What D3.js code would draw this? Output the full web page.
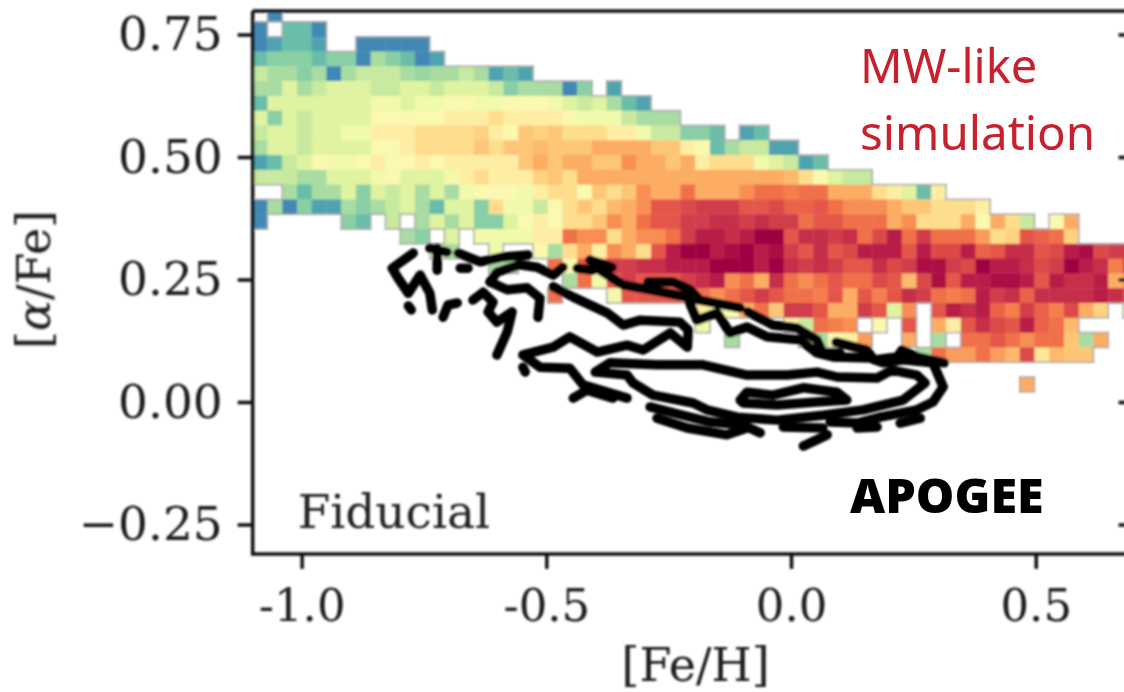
<!DOCTYPE html>
<html>
<head>
<meta charset="utf-8">
<script src="https://cdn.jsdelivr.net/npm/d3@7"></script>
<style>
  html, body { margin: 0; padding: 0; background: #fff; overflow: hidden; }
  text { font-family: "DejaVu Serif", serif; }
</style>
</head>
<body>
<div id="chart"></div>
<script>
const _ = null;

// colour level of each bin, top row first, left column first (0 = blue ... 18 = dark red)
const row00 = [_,0];
const row01 = [0,_,2,2,0];
const row02 = [0,1,2,2,1,_,_,0,0,0,0,0];
const row03 = [2,3,3,3,2,3,3,0,4,3,2,0,1];
const row04 = [5,4,4,3,4,0,4,5,5,5,4,3.5,4,4,5,4,1,2,1];
const row05 = [4,4,6,4,5,6,6,6,5,5,6,6,5,6,6,6,5,3,4,4,4,0,3,_,1];
const row06 = [2,6,6,6,6,6,6,6,7,7,6,7,7,8,8,7,7,8,8,8,7,6,5,6,4,2,1];
const row07 = [6,3,6,5,6,6,6,6,8,8,8,8,8,9,9,9,10,9,9,9,9,8,7,7,7,5,4,4,4];
const row08 = [5,6,6,5,6,6,7,7,9,9,9,10,10,10,10,10.5,9,8,11,10.5,11,10,10,10,9,9,7,5,5,3,3,2,_,1,2];
const row09 = [4,6,6,5,6,6,6,6,8,8,9,10,10,10,10,11,10,11,11,11.5,11,11,11,12,12,12,12,11,11,9,8,2,4,5,5,1,1];
const row10 = [1,2,5,6,8,7,7,8,9,8,8,9,8,9,9,9,9,9,11,12,11,12,12,11,11,13,12,12,11,12,9,10,10,10,7,6,5,1,2];
const row11 = [5,5,5,4,4,6,6,6,7,8,6,6,6,7,9,10,9,9,9,10.5,11,10,12,12,12,12,12,12,12,12,12,12,12,12,12,12,11.5,10,8,6,5,5];
const row12 = [_,_,4,2,4,4,6,3,6,5,6,4,6,4,7,8,8,8,7,9,10,10,8,11,10,11,13,12,12,14,12,12,12,13,14,14,13.5,14,14,12,12,12,10,9,6,2,9];
const row13 = [0,4,0,3,1,1,4,3,4,5,6,4,2,6,6,3,10,7,7,5,8,10,11,10,11.5,12,13,15,15,15.5,16,16,16,15,15,15.5,14.5,14.5,15,14,13,13,13,12,11,11,10,10,10,9];
const row14 = [0,_,_,_,_,_,3,2,_,5,_,4,6,4,6,3,3,6,8,9,8,10,10,11,13,12,14,15,15,16,16,16.5,16.5,16,16.5,16,16,14,15,15,14,14,14,12,13,10,10,10,12,8,12,10,5,_,8,12];
const row15 = [_,_,_,_,_,_,_,_,_,_,4,3,_,6,_,7,7,7,7,9,9,14,13,13,10,12,13,13,14,16,17,17,16.5,17,18,18,15,16.5,16.5,16,16.5,14,15.5,17,14,16,14,14,14,12.5,10,10.5,15,14.5,14,10.5];
const row16 = [_,_,_,_,_,_,_,_,_,_,_,_,6,4,_,_,7,_,_,8,4,10,12,9,13,12,10,15,17,18,18,17,17.5,18,17,17.5,16,15,16.5,15,15.5,17,17,17,15,17,15.5,15.5,17,14.5,15,16.5,16.5,15,15.5,17,17.5,15.5,16,16];
const row17 = [_,_,_,_,_,_,_,_,_,_,_,_,_,_,_,_,4,4,_,_,14,8,15,14,16,16,16.5,16.5,17,17,17,18,18,18,17,18,16.5,16,16.5,16,15,15,16.5,15.5,16,17.5,17.5,16,15.5,18,17,17,16.5,15.5,16,18,17,16.5,13.5,16];
const row18 = [_,_,_,_,_,_,_,_,_,_,_,_,_,_,_,_,_,_,_,_,_,4,14,7,15,16,15,15,15,16,16.5,17,13,14,12,16.5,14,13,14,15,14,14,15.5,15,11.5,15.5,17.5,15,17,17,17.5,17.5,17,15,17,16.5,16.5,17,12,13];
const row19 = [_,_,_,_,_,_,_,_,_,_,_,_,_,_,_,_,_,_,_,_,14,_,_,_,7,15,15,15,15,14,14,13,14,15,16,15,14,14,13.5,15,12,15,13.5,15,16.5,16,14,13.5,14,17,16,16.5,14.5,16.5,16.5,16.5,16.5,17,16.5,15];
const row20 = [_,_,_,_,_,_,_,_,_,_,_,_,_,_,_,_,_,_,_,_,_,_,_,_,_,_,_,_,_,_,9,7,8,12,14,11,16,16,15,12,12,16,15,6,13,_,15,17,16.5,17,14.5,13.5,16,14.5,13.5,15.5,12,10.5,_,6];
const row21 = [_,_,_,_,_,_,_,_,_,_,_,_,_,_,_,_,_,_,_,_,_,_,_,_,_,_,_,_,_,_,7,_,_,_,_,_,9,5,14,13.5,13,_,8,_,15,_,12,9,15,16.5,15.5,15,17,14.5,14,11.5];
const row22 = [_,_,_,_,_,_,_,_,_,_,_,_,_,_,_,_,_,_,_,_,_,_,_,_,_,_,_,_,_,_,_,_,4,_,_,_,_,6,4,8,9,12.5,_,_,12,_,4,_,14,14,15,14,13,14,14,11,4,12];
const row23 = [_,_,_,_,_,_,_,_,_,_,_,_,_,_,_,_,_,_,_,_,_,_,_,_,_,_,_,_,_,_,_,_,_,_,_,_,_,_,_,_,_,_,_,_,_,4,14,12.5,12.5,14,12.5,11.5,15.5,9.5,11.5,11,11];
const row24 = [];
const row25 = [_,_,_,_,_,_,_,_,_,_,_,_,_,_,_,_,_,_,_,_,_,_,_,_,_,_,_,_,_,_,_,_,_,_,_,_,_,_,_,_,_,_,_,_,_,_,_,_,_,_,_,_,12];
const rows = [row00,row01,row02,row03,row04,row05,row06,row07,row08,row09,row10,row11,row12,row13,row14,row15,row16,row17,row18,row19,row20,row21,row22,row23,row24,row25];

// APOGEE contour pieces, [Fe/H] then [alpha/Fe]
const outerLeft1 = [[-.772,.304],[-.815,.273],[-.803,.253],[-.782,.222],[-.758,.259],[-.738,.222],[-.733,.188]];
const outerLeft2 = [[-.782,.196],[-.776,.188]];
const outerLeft3 = [[-.711,.173],[-.701,.198],[-.682,.202]];
const outerLeft4 = [[-.738,.314],[-.703,.306]];
const outerLeft5 = [[-.723,.314],[-.723,.269]];
const outerLeft6 = [[-.676,.273],[-.660,.273]];
const topLine1 = [[-.680,.304],[-.635,.286],[-.588,.296],[-.537,.300]];
const topLine2 = [[-.615,.245],[-.601,.265],[-.554,.280],[-.519,.275],[-.486,.259],[-.466,.275]];
const topLine3 = [[-.437,.273],[-.405,.269]];
const topLine4 = [[-.411,.290],[-.366,.275]];
const topLine5 = [[-.390,.269],[-.343,.239],[-.288,.229],[-.212,.214],[-.186,.208]];
const topLine6 = [[-.292,.245],[-.241,.245],[-.206,.229],[-.186,.208],[-.104,.192]];
const topLine7 = [[-.088,.184],[-.037,.157],[.012,.151],[.053,.127],[.065,.100],[.100,.100]];
const topLine8 = [[.092,.122],[.155,.106],[.165,.092]];
const topLine9 = [[.170,.086],[.217,.092],[.227,.106],[.257,.092],[.313,.080]];
const outerRing = [[-.212,.214],[-.192,.167],[-.151,.182],[-.125,.141],[-.090,.153],[-.049,.133],[.018,.127],[.053,.100],[.086,.092],[.161,.090],[.188,.080],[.229,.086],[.290,.080],[.311,.031],[.290,0],[.257,-.016],[.182,-.031],[.135,-.043],[.080,-.041]];
const midTop = [[-.615,.245],[-.580,.229],[-.539,.233],[-.513,.212],[-.517,.173]];
const midLoop = [[-.486,.235],[-.445,.214],[-.376,.182],[-.343,.157],[-.308,.167],[-.227,.163],[-.210,.147],[-.212,.112],[-.247,.141],[-.302,.106],[-.335,.116],[-.396,.102],[-.452,.133],[-.486,.112],[-.548,.096],[-.513,.071],[-.452,.069],[-.425,.035],[-.335,.008]];
const midDot = [[-.548,.071],[-.543,.061]];
const midLow = [[-.445,.008],[-.417,.024],[-.364,.008]];
const squiggle = [[-.650,.208],[-.629,.224],[-.609,.204],[-.619,.184],[-.601,.163],[-.570,.184],[-.580,.143],[-.601,.096]];
const innerRing = [[-.400,.061],[-.370,.080],[-.274,.076],[-.180,.076],[-.090,.055],[-.008,.055],[.053,.061],[.094,.051],[.176,.049],[.206,.065],[.257,.055],[.274,.039],[.229,.004],[.147,-.016],[.065,-.027],[-.029,-.037],[-.110,-.031],[-.172,-.016],[-.200,-.002],[-.282,.014],[-.323,.039],[-.335,.055],[-.400,.061]];
const lowFrag1 = [[-.288,-.010],[-.221,-.027],[-.165,-.041],[-.098,-.047],[-.063,-.063]];
const lowFrag2 = [[-.274,-.033],[-.212,-.053],[-.131,-.067],[-.090,-.053]];
const lowFrag3 = [[-.016,-.051],[.065,-.053]];
const lowFrag4 = [[.025,-.090],[.074,-.067]];
const lowFrag5 = [[.135,-.053],[.176,-.051]];
const lowFrag6 = [[.264,-.033],[.223,-.043]];
const centre = [[-.104,.004],[-.090,.020],[-.037,.014],[.025,.029],[.094,.020],[.114,.004],[.053,0],[-.029,-.006],[-.098,-.002],[-.104,.004]];
const contourPieces = [outerLeft1,outerLeft2,outerLeft3,outerLeft4,outerLeft5,outerLeft6,topLine1,topLine2,topLine3,topLine4,topLine5,topLine6,topLine7,topLine8,topLine9,outerRing,midTop,midLoop,midDot,midLow,squiggle,innerRing,lowFrag1,lowFrag2,lowFrag3,lowFrag4,lowFrag5,lowFrag6,centre];

const xTicks = [-1.0,-0.5,0.0,0.5];
const xTickLabels = ["-1.0","-0.5","0.0","0.5"];
const yTicks = [0.75,0.50,0.25,0.00,-0.25];
const yTickLabels = ["0.75","0.50","0.25","0.00","\u22120.25"];

const binLeft = -1.1, binWidth = 0.03014;
const binTop = 0.806, binHeight = 0.0302;

const width = 1124, height = 692;

const x = d3.scaleLinear().domain([-1.1, 0.7]).range([252.7, 1133.6]);
const y = d3.scaleLinear().domain([-0.31, 0.8]).range([553.9, 10]);

const level = d3.scaleLinear().domain([0, 18]).range([0.9, 0]);
const color = v => d3.interpolateSpectral(level(v));

const svg = d3.select("#chart").append("svg")
    .attr("width", width)
    .attr("height", height);

const defs = svg.append("defs");
defs.append("clipPath").attr("id", "plotClip").append("rect")
    .attr("x", x.range()[0]).attr("y", y(0.8))
    .attr("width", x.range()[1] - x.range()[0])
    .attr("height", y.range()[0] - y.range()[1]);
defs.append("filter").attr("id", "soft")
    .attr("filterUnits", "userSpaceOnUse")
    .attr("x", 0).attr("y", 0).attr("width", width).attr("height", height)
  .append("feGaussianBlur").attr("stdDeviation", 1);

const chart = svg.append("g").attr("filter", "url(#soft)");
const plot = chart.append("g").attr("clip-path", "url(#plotClip)");

// flatten to one record per filled bin
const cells = [];
rows.forEach((row, r) => row.forEach((v, c) => { if (v !== null) cells.push({r, c, v}); }));
const filled = (r, c) => rows[r] !== undefined && rows[r][c] !== undefined && rows[r][c] !== null;

const colX = c => x(binLeft + c * binWidth);
const rowY = r => y(binTop - r * binHeight);

plot.append("g").selectAll("rect")
  .data(cells)
  .enter().append("rect")
    .attr("x", d => colX(d.c))
    .attr("y", d => rowY(d.r))
    .attr("width", d => colX(d.c + 1) - colX(d.c) + 0.4)
    .attr("height", d => rowY(d.r + 1) - rowY(d.r) + 0.4)
    .attr("fill", d => color(d.v));

// grey edge where a bin borders an empty one
const edges = [];
cells.forEach(d => {
  if (!filled(d.r - 1, d.c)) edges.push([d.c, d.r, d.c + 1, d.r]);
  if (!filled(d.r + 1, d.c)) edges.push([d.c, d.r + 1, d.c + 1, d.r + 1]);
  if (!filled(d.r, d.c - 1)) edges.push([d.c, d.r, d.c, d.r + 1]);
  if (!filled(d.r, d.c + 1)) edges.push([d.c + 1, d.r, d.c + 1, d.r + 1]);
});
plot.append("g").selectAll("line")
  .data(edges)
  .enter().append("line")
    .attr("x1", d => colX(d[0])).attr("y1", d => rowY(d[1]))
    .attr("x2", d => colX(d[2])).attr("y2", d => rowY(d[3]))
    .attr("stroke", "#a9a9a9")
    .attr("stroke-width", 1.5)
    .attr("stroke-linecap", "square");

const line = d3.line().x(d => x(d[0])).y(d => y(d[1]));
plot.append("g").selectAll("path")
  .data(contourPieces)
  .enter().append("path")
    .attr("d", line)
    .attr("fill", "none")
    .attr("stroke", "#000")
    .attr("stroke-width", 9.5)
    .attr("stroke-linejoin", "round")
    .attr("stroke-linecap", "round");

// axes
function styleAxis(size) {
  return g => {
    g.select(".domain").remove();
    g.selectAll(".tick line").attr("stroke", "#111").attr("stroke-width", 3.5);
    g.selectAll(".tick text").attr("fill", "#1a1a1a").attr("font-size", size).attr("font-family", "DejaVu Serif");
  };
}

chart.append("g")
    .attr("transform", `translate(${x.range()[0]},0)`)
    .call(d3.axisLeft(y).tickValues(yTicks).tickSize(15).tickPadding(15).tickFormat((d, i) => yTickLabels[i]))
    .call(styleAxis(47));

chart.append("g")
    .attr("transform", `translate(0,${y.range()[0]})`)
    .call(d3.axisBottom(x).tickValues(xTicks).tickSize(15).tickPadding(20).tickFormat((d, i) => xTickLabels[i]))
    .call(styleAxis(45));

chart.append("g")
    .attr("transform", `translate(${x.range()[1]},0)`)
    .call(d3.axisLeft(y).tickValues(yTicks).tickSize(15).tickFormat(""))
    .call(styleAxis(45));

// spines
chart.append("path")
    .attr("d", `M${x.range()[0]},${y(0.798)}H${width + 5}M${x.range()[0]},${y(0.798)}V${y.range()[0]}H${width + 5}`)
    .attr("fill", "none")
    .attr("stroke", "#111")
    .attr("stroke-width", 3.5);

chart.append("text")
    .attr("x", x(-0.195)).attr("y", 681)
    .attr("text-anchor", "middle")
    .attr("fill", "#1a1a1a")
    .attr("font-size", 46)
    .text("[Fe/H]");

const yLabel = chart.append("text")
    .attr("transform", `translate(50,${y(0.25)}) rotate(-90)`)
    .attr("text-anchor", "middle")
    .attr("fill", "#1a1a1a")
    .attr("font-size", 46);
yLabel.append("tspan").text("[");
yLabel.append("tspan").attr("font-style", "italic").text("\u03b1");
yLabel.append("tspan").text("/Fe]");

chart.append("text")
    .attr("x", x(-1.0) - 4).attr("y", y(-0.25) + 3)
    .attr("fill", "#222")
    .attr("font-size", 47)
    .text("Fiducial");

// annotations pasted over the plot, sharp
svg.append("text")
    .attr("x", 860).attr("y", 83)
    .attr("fill", "#c8202c")
    .style("font-family", "'Noto Sans'")
    .attr("font-size", 47)
    .text("MW-like");
svg.append("text")
    .attr("x", 860).attr("y", 150)
    .attr("fill", "#c8202c")
    .style("font-family", "'Noto Sans'")
    .attr("font-size", 47.5)
    .text("simulation");
svg.append("text")
    .attr("x", 850).attr("y", 513)
    .attr("fill", "#000")
    .style("font-family", "'Noto Sans'")
    .attr("font-weight", 900)
    .attr("font-size", 48.5)
    .text("APOGEE");
</script>
</body>
</html>
